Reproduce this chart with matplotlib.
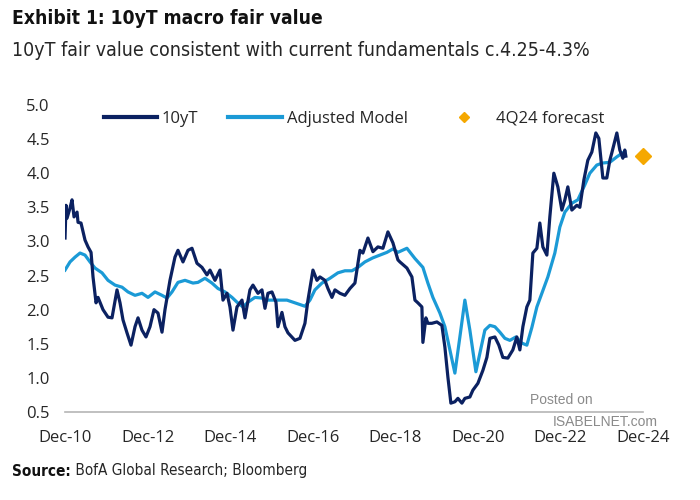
import matplotlib
matplotlib.use("Agg")
import matplotlib.pyplot as plt
from matplotlib.lines import Line2D

# years since Dec-2010 / yield (%)
t_10y = [0.0, 0.024, 0.048, 0.121, 0.169, 0.218, 0.291, 0.315, 0.387, 0.484,
         0.557, 0.630, 0.678, 0.751, 0.799, 0.872, 0.920, 1.041, 1.138, 1.186,
         1.259, 1.332, 1.404, 1.501, 1.598, 1.695, 1.768, 1.864, 1.961, 2.058,
         2.155, 2.252, 2.349, 2.421, 2.542, 2.663, 2.736, 2.857, 2.978, 3.075,
         3.196, 3.317, 3.438, 3.511, 3.632, 3.753, 3.826, 3.923, 3.995, 4.068,
         4.165, 4.286, 4.358, 4.479, 4.552, 4.673, 4.770, 4.843, 4.915, 5.012,
         5.109, 5.157, 5.254, 5.303, 5.327, 5.400, 5.569, 5.690, 5.811, 5.884,
         6.005, 6.102, 6.174, 6.295, 6.368, 6.465, 6.538, 6.659, 6.780, 6.901,
         7.022, 7.143, 7.215, 7.337, 7.458, 7.579, 7.700, 7.821, 7.942, 8.063,
         8.111, 8.281, 8.402, 8.475, 8.547, 8.644, 8.668, 8.741, 8.789, 8.886,
         9.007, 9.128, 9.201, 9.274, 9.346, 9.443, 9.516, 9.613, 9.685, 9.806,
         9.879, 10.000, 10.121, 10.218, 10.291, 10.412, 10.508, 10.605, 10.726,
         10.847, 10.944, 11.017, 11.090, 11.186, 11.259, 11.332, 11.429, 11.501,
         11.574, 11.671, 11.743, 11.840, 11.937, 12.034, 12.107, 12.179, 12.276,
         12.397, 12.470, 12.567, 12.663, 12.760, 12.857, 12.930, 13.027, 13.123,
         13.196, 13.245, 13.366, 13.438, 13.511, 13.559, 13.584]
y_10y = [3.05, 3.53, 3.34, 3.49, 3.61, 3.36, 3.43, 3.28, 3.27, 3.02,
         2.92, 2.84, 2.48, 2.10, 2.18, 2.07, 2.00, 1.89, 1.88, 2.04,
         2.29, 2.10, 1.85, 1.66, 1.48, 1.75, 1.88, 1.70, 1.60, 1.75,
         2.00, 1.95, 1.67, 2.00, 2.43, 2.77, 2.87, 2.70, 2.87, 2.90,
         2.68, 2.62, 2.51, 2.58, 2.43, 2.58, 2.14, 2.24, 2.04, 1.70,
         2.04, 2.14, 1.88, 2.29, 2.36, 2.24, 2.29, 2.02, 2.24, 2.26,
         2.11, 1.75, 1.96, 1.82, 1.75, 1.66, 1.55, 1.58, 1.80, 2.14,
         2.58, 2.43, 2.48, 2.43, 2.31, 2.18, 2.29, 2.24, 2.21, 2.31,
         2.39, 2.87, 2.83, 3.05, 2.85, 2.92, 2.90, 3.14, 2.98, 2.73,
         2.70, 2.61, 2.48, 2.14, 2.10, 2.04, 1.52, 1.88, 1.80, 1.80,
         1.82, 1.77, 1.45, 1.01, 0.63, 0.65, 0.70, 0.63, 0.70, 0.72,
         0.82, 0.92, 1.11, 1.30, 1.58, 1.60, 1.48, 1.30, 1.29,
         1.41, 1.60, 1.41, 1.75, 2.04, 2.14, 2.83, 2.90, 3.27,
         2.92, 2.80, 3.36, 4.00, 3.80, 3.46, 3.61, 3.80, 3.46,
         3.53, 3.50, 3.90, 4.19, 4.31, 4.59, 4.51, 3.93, 3.93,
         4.19, 4.30, 4.59, 4.34, 4.22, 4.34, 4.25]

t_model = [0.0, 0.121, 0.242, 0.363, 0.484, 0.605, 0.726, 0.896, 1.041, 1.211,
           1.380, 1.525, 1.695, 1.864, 2.010, 2.179, 2.349, 2.470, 2.591, 2.736,
           2.906, 3.099, 3.220, 3.390, 3.559, 3.705, 3.874, 4.044, 4.165, 4.310,
           4.431, 4.600, 4.770, 4.915, 5.085, 5.278, 5.375, 5.569, 5.811, 5.932,
           6.053, 6.223, 6.416, 6.610, 6.780, 6.949, 7.094, 7.264, 7.458, 7.627,
           7.797, 7.942, 8.063, 8.281, 8.475, 8.668, 8.789, 8.910, 9.080, 9.201,
           9.322, 9.443, 9.564, 9.685, 9.806, 9.952, 10.048, 10.169, 10.291,
           10.412, 10.533, 10.654, 10.775, 10.920, 11.065, 11.186, 11.308,
           11.429, 11.550, 11.695, 11.864, 11.985, 12.107, 12.276, 12.421,
           12.591, 12.712, 12.881, 13.027, 13.196, 13.366, 13.511, 13.559]
y_model = [2.58, 2.70, 2.77, 2.83, 2.80, 2.70, 2.61, 2.54, 2.43, 2.36,
           2.33, 2.26, 2.21, 2.24, 2.18, 2.26, 2.21, 2.17, 2.26, 2.40,
           2.43, 2.39, 2.40, 2.46, 2.39, 2.31, 2.26, 2.18, 2.11, 2.04,
           2.11, 2.18, 2.17, 2.14, 2.14, 2.14, 2.14, 2.10, 2.05, 2.14,
           2.29, 2.39, 2.46, 2.54, 2.57, 2.57, 2.62, 2.70, 2.76, 2.80,
           2.84, 2.89, 2.84, 2.90, 2.75, 2.62, 2.39, 2.18, 1.95, 1.75,
           1.41, 1.07, 1.60, 2.14, 1.70, 1.09, 1.36, 1.70, 1.77,
           1.75, 1.67, 1.58, 1.55, 1.60, 1.51, 1.48, 1.74,
           2.04, 2.24, 2.48, 2.83, 3.21, 3.43, 3.56, 3.61,
           3.83, 4.00, 4.12, 4.15, 4.16, 4.24, 4.30, 4.31]

t_forecast = [14.0]
y_forecast = [4.25]

xticks = [0, 2, 4, 6, 8, 10, 12, 14]
xticklabels = ["Dec-10", "Dec-12", "Dec-14", "Dec-16", "Dec-18", "Dec-20", "Dec-22", "Dec-24"]
yticks = [0.5, 1.0, 1.5, 2.0, 2.5, 3.0, 3.5, 4.0, 4.5, 5.0]

NAVY = "#0b2161"
SKY = "#1b9ad6"
GOLD = "#f5a800"
TXT = "#262626"
COND = dict(family="DejaVu Sans", fontstretch="condensed")

plt.rcParams["font.family"] = ["Open Sans", "DejaVu Sans"]

fig = plt.figure(figsize=(7, 5), dpi=100)
fig.patch.set_facecolor("white")
ax = fig.add_axes([0.0929, 0.176, 0.8257, 0.614])

ax.plot(t_model, y_model, color=SKY, linewidth=2.3, solid_joinstyle="round", zorder=2)
ax.plot(t_10y, y_10y, color=NAVY, linewidth=2.3, solid_joinstyle="round", zorder=3)
ax.plot(t_forecast, y_forecast, linestyle="none", marker="D", markersize=8,
        color=GOLD, clip_on=False, zorder=4)

ax.set_xlim(0, 14)
ax.set_ylim(0.5, 5.0)
ax.set_xticks(xticks)
ax.set_xticklabels(xticklabels)
ax.set_yticks(yticks)
ax.set_yticklabels([f"{v:.1f}" for v in yticks])
ax.tick_params(axis="both", length=0, labelsize=12, colors=TXT)
ax.tick_params(axis="x", pad=13)
ax.tick_params(axis="y", pad=11)
for side in ["top", "right", "left"]:
    ax.spines[side].set_visible(False)
ax.spines["bottom"].set_color("#b5b5b5")
ax.spines["bottom"].set_linewidth(1.2)

handles = [
    Line2D([], [], color=NAVY, linewidth=3),
    Line2D([], [], color=SKY, linewidth=3),
    Line2D([], [], color=GOLD, linestyle="none", marker="D", markersize=5),
]
ax.legend(handles, ["10yT", "Adjusted Model", "4Q24 forecast"], ncol=3,
          loc="upper center", bbox_to_anchor=(0.50, 1.03), frameon=False,
          fontsize=12, handlelength=3.2, columnspacing=1.8, handletextpad=0.3,
          labelcolor=TXT)

fig.text(0.017, 0.962, "Exhibit 1: 10yT macro fair value", fontsize=13.8,
         fontweight="bold", color="#111111", va="center", **COND)
fig.text(0.017, 0.898, "10yT fair value consistent with current fundamentals c.4.25-4.3%",
         fontsize=14, color=TXT, va="center", **COND)
src = fig.text(0.017, 0.058, "Source:", fontsize=11, fontweight="bold",
               color="#111111", va="center", **COND)
plt.annotate(" BofA Global Research; Bloomberg", xy=(1, 0.5), xycoords=src,
             va="center", ha="left", fontsize=11, color=TXT, **COND)

fig.text(0.757, 0.2, "Posted on", fontsize=10, color="#8a8a8a", va="center",
         family=["Liberation Sans", "DejaVu Sans"])
fig.text(0.79, 0.155, "ISABELNET.com", fontsize=10, color="#8a8a8a", va="center",
         family=["Liberation Sans", "DejaVu Sans"])

fig.savefig("out.png", dpi=100, facecolor="white")
